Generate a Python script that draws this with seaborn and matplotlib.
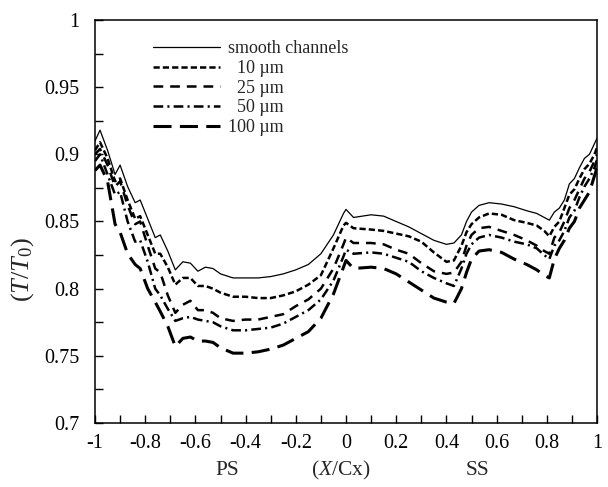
import numpy as np
import pandas as pd
import matplotlib
matplotlib.use("Agg")
import matplotlib.pyplot as plt
from matplotlib.lines import Line2D
from matplotlib.ticker import MultipleLocator
import seaborn as sns

# ---- data ----
x_cx = [-1.00, -0.98, -0.95, -0.92, -0.90, -0.87, -0.84, -0.82, -0.79, -0.76,
        -0.74, -0.71, -0.68, -0.65, -0.62, -0.59, -0.56, -0.53, -0.50, -0.45,
        -0.40, -0.35, -0.30, -0.25, -0.20, -0.15, -0.10, -0.05, -0.01, 0.00,
        0.03, 0.10, 0.15, 0.20, 0.25, 0.30, 0.35, 0.40, 0.43, 0.46,
        0.48, 0.50, 0.53, 0.57, 0.62, 0.67, 0.72, 0.76, 0.79, 0.81,
        0.83, 0.85, 0.87, 0.89, 0.91, 0.93, 0.95, 0.97, 0.99, 1.00]

smooth = [0.910, 0.918, 0.903, 0.885, 0.892, 0.876, 0.864, 0.866, 0.852, 0.838,
          0.840, 0.828, 0.814, 0.820, 0.819, 0.813, 0.816, 0.815, 0.811, 0.808,
          0.808, 0.808, 0.809, 0.811, 0.814, 0.818, 0.826, 0.840, 0.856, 0.859,
          0.853, 0.855, 0.854, 0.850, 0.846, 0.841, 0.836, 0.833, 0.834, 0.840,
          0.850, 0.857, 0.862, 0.864, 0.863, 0.861, 0.858, 0.856, 0.853, 0.851,
          0.857, 0.860, 0.866, 0.878, 0.882, 0.890, 0.897, 0.900, 0.908, 0.912]

r10 = [0.903, 0.909, 0.897, 0.880, 0.882, 0.866, 0.852, 0.854, 0.840, 0.826,
       0.826, 0.816, 0.803, 0.808, 0.808, 0.802, 0.802, 0.800, 0.797, 0.794,
       0.794, 0.793, 0.793, 0.795, 0.798, 0.803, 0.810, 0.830, 0.847, 0.849,
       0.845, 0.844, 0.843, 0.841, 0.839, 0.835, 0.827, 0.820, 0.821, 0.832,
       0.842, 0.848, 0.853, 0.856, 0.855, 0.851, 0.849, 0.847, 0.843, 0.839,
       0.846, 0.850, 0.860, 0.870, 0.874, 0.882, 0.889, 0.893, 0.900, 0.905]

r25 = [0.900, 0.904, 0.892, 0.876, 0.880, 0.862, 0.848, 0.850, 0.832, 0.815,
       0.812, 0.795, 0.782, 0.788, 0.791, 0.784, 0.784, 0.782, 0.778, 0.776,
       0.777, 0.777, 0.779, 0.781, 0.787, 0.792, 0.800, 0.815, 0.833, 0.838,
       0.834, 0.834, 0.833, 0.829, 0.826, 0.819, 0.813, 0.811, 0.812, 0.820,
       0.832, 0.840, 0.845, 0.846, 0.843, 0.840, 0.836, 0.832, 0.828, 0.826,
       0.838, 0.842, 0.850, 0.860, 0.866, 0.874, 0.882, 0.887, 0.895, 0.900]

r50 = [0.895, 0.900, 0.885, 0.870, 0.872, 0.850, 0.835, 0.836, 0.820, 0.800,
       0.795, 0.785, 0.776, 0.778, 0.779, 0.777, 0.776, 0.775, 0.772, 0.769,
       0.769, 0.770, 0.771, 0.774, 0.779, 0.784, 0.792, 0.806, 0.824, 0.829,
       0.826, 0.827, 0.826, 0.823, 0.820, 0.813, 0.808, 0.804, 0.802, 0.815,
       0.826, 0.833, 0.838, 0.840, 0.838, 0.835, 0.833, 0.830, 0.825, 0.822,
       0.832, 0.836, 0.843, 0.853, 0.858, 0.868, 0.876, 0.882, 0.890, 0.896]

r100 = [0.888, 0.892, 0.880, 0.848, 0.842, 0.826, 0.818, 0.815, 0.800, 0.790,
        0.783, 0.772, 0.757, 0.763, 0.764, 0.761, 0.761, 0.760, 0.756, 0.752,
        0.752, 0.753, 0.755, 0.758, 0.763, 0.768, 0.778, 0.796, 0.816, 0.821,
        0.815, 0.816, 0.815, 0.811, 0.805, 0.799, 0.793, 0.790, 0.789, 0.800,
        0.812, 0.822, 0.828, 0.829, 0.827, 0.822, 0.818, 0.814, 0.810, 0.808,
        0.822, 0.830, 0.836, 0.845, 0.850, 0.860, 0.866, 0.872, 0.884, 0.890]

labels = ["smooth channels", "  10 \u00b5m", "  25 \u00b5m", "  50 \u00b5m", "100 \u00b5m"]
series = [smooth, r10, r25, r50, r100]

# ---- style ----
sns.set_style("ticks")
plt.rcParams["font.family"] = ["Liberation Serif", "DejaVu Serif"]
plt.rcParams["mathtext.fontset"] = "custom"
plt.rcParams["mathtext.rm"] = "Liberation Serif"
plt.rcParams["mathtext.it"] = "Liberation Serif:italic"
plt.rcParams["lines.scale_dashes"] = False

line_styles = [
    dict(linestyle="-", lw=0.9),
    dict(linestyle=(0, (4.5, 2.2)), lw=1.8),
    dict(linestyle=(0, (7, 5)), lw=1.8),
    dict(linestyle=(0, (7, 3, 1.5, 3)), lw=1.8),
    dict(linestyle=(0, (13, 6)), lw=2.2),
]

fig = plt.figure(figsize=(6.08, 4.87), dpi=100)
ax = fig.add_axes([95 / 608, 1 - 423 / 487, 502 / 608, 403 / 487])

for lab, vals, st in zip(labels, series, line_styles):
    sns.lineplot(x=x_cx, y=vals, color="black", ax=ax, **st)

ax.set_xlim(-1, 1)
ax.set_ylim(0.7, 1.0)
ax.xaxis.set_major_locator(MultipleLocator(0.2))
ax.xaxis.set_minor_locator(MultipleLocator(0.1))
ax.yaxis.set_major_locator(MultipleLocator(0.05))
ax.yaxis.set_minor_locator(MultipleLocator(0.025))
ax.xaxis.set_major_formatter(lambda v, p: f"{v:g}" if abs(v) > 1e-9 else "0")
ax.yaxis.set_major_formatter(lambda v, p: f"{v:g}")
ax.tick_params(which="both", direction="in", top=False, right=False, width=1, colors="black")
ax.tick_params(which="major", length=6, labelsize=14.5)
ax.tick_params(which="minor", length=6)
ax.tick_params(axis="y", pad=11)
ax.tick_params(axis="x", pad=8)
for sp in ax.spines.values():
    sp.set_visible(True)
    sp.set_linewidth(1.1)
    sp.set_color("black")

ax.set_ylabel(r"$(T/T_0)$", fontsize=19)
ax.yaxis.set_label_coords(-0.118, 0.38)
ax.text(0.264, -0.117, "PS", transform=ax.transAxes, ha="center", va="center", fontsize=15.5)
ax.text(0.49, -0.117, r"($\mathit{X}$/Cx)", transform=ax.transAxes, ha="center", va="center", fontsize=15.5)
ax.text(0.762, -0.117, "SS", transform=ax.transAxes, ha="center", va="center", fontsize=15.5)

handles = [Line2D([], [], color="black", **st) for st in line_styles]
ax.legend(handles, labels, loc="upper left", bbox_to_anchor=(0.115, 0.95),
          frameon=False, fontsize=13, handlelength=3.7, handletextpad=0.45,
          labelspacing=0.15, borderpad=0, borderaxespad=0)

fig.savefig("out.png", dpi=100)
